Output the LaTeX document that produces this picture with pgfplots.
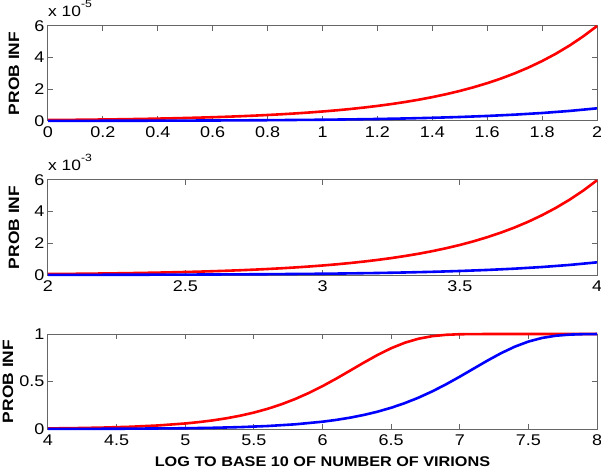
\documentclass[border=0pt]{standalone}
\usepackage{fontspec}
\setmainfont{Liberation Sans}[FakeStretch=1.16]
\usepackage{pgfplots}
\pgfplotsset{compat=1.18}
\definecolor{mred}{RGB}{255,0,0}
\definecolor{mblue}{RGB}{0,0,255}

\pgfplotsset{
  mpanel/.style={
    scale only axis, width=549pt, height=95pt,
    clip=false,
    tick align=inside, major tick length=5pt,
    axis line style={black!60, line width=1pt},
    every tick/.style={black!60, line width=1pt},
    tick label style={font=\fontsize{15.5}{17}\selectfont},
    xticklabel style={yshift=-2pt},
    /pgf/number format/assume math mode=true,
    ylabel={PROB INF},
    ylabel style={font=\bfseries\fontsize{15}{17}\selectfont,
      at={(rel axis cs:0,0.5)}, anchor=center, yshift=34pt},
  },
  scalelab/.style={every y tick scale label/.style={at={(rel axis cs:0,1)}, anchor=base west,
      inner sep=0pt, yshift=9pt, font=\fontsize{15}{17}\selectfont}},
  redline/.style={mred, line width=2.6pt},
  blueline/.style={mblue, line width=2.6pt},
}

\begin{document}
\begin{tikzpicture}
% top panel
\begin{axis}[mpanel, scalelab, at={(0,0)}, anchor=south west,
  xmin=0, xmax=2, ymin=0, ymax=6e-5,
  xtick={0,0.2,...,2.01}, ytick={0,2e-5,4e-5,6e-5},
  scaled y ticks=base 10:5,
  ytick scale label code/.code={x 10\raisebox{9.5pt}{\fontsize{10.5}{11}\selectfont -5}},
]
\addplot[redline] coordinates {
(0,0.060e-5) (0.05,0.0673e-5) (0.1,0.0755e-5) (0.15,0.0848e-5) (0.2,0.0951e-5)
(0.25,0.1067e-5) (0.3,0.1197e-5) (0.35,0.1343e-5) (0.4,0.1507e-5) (0.45,0.1691e-5)
(0.5,0.1897e-5) (0.55,0.2129e-5) (0.6,0.2389e-5) (0.65,0.2680e-5) (0.7,0.3007e-5)
(0.75,0.3374e-5) (0.8,0.3786e-5) (0.85,0.4248e-5) (0.9,0.4766e-5) (0.95,0.5348e-5)
(1.0,0.600e-5) (1.05,0.673e-5) (1.1,0.755e-5) (1.15,0.848e-5) (1.2,0.951e-5)
(1.25,1.067e-5) (1.3,1.197e-5) (1.35,1.343e-5) (1.4,1.507e-5) (1.45,1.691e-5)
(1.5,1.897e-5) (1.55,2.129e-5) (1.6,2.389e-5) (1.65,2.680e-5) (1.7,3.007e-5)
(1.75,3.374e-5) (1.8,3.786e-5) (1.85,4.248e-5) (1.9,4.766e-5) (1.95,5.348e-5)
(2.0,6.0e-5)
};
\addplot[blueline] coordinates {
(0,0.008e-5) (0.2,0.0127e-5) (0.4,0.0201e-5) (0.6,0.0318e-5) (0.8,0.0505e-5)
(1.0,0.080e-5) (1.1,0.1007e-5) (1.2,0.1268e-5) (1.3,0.1596e-5) (1.4,0.2009e-5)
(1.5,0.2530e-5) (1.6,0.3185e-5) (1.7,0.4009e-5) (1.8,0.5048e-5) (1.9,0.6355e-5)
(2.0,0.800e-5)
};
\end{axis}

% middle panel
\begin{axis}[mpanel, scalelab, at={(0,-154pt)}, anchor=south west,
  xmin=2, xmax=4, ymin=0, ymax=6e-3,
  xtick={2,2.5,3,3.5,4}, ytick={0,2e-3,4e-3,6e-3},
  scaled y ticks=base 10:3,
  ytick scale label code/.code={x 10\raisebox{9.5pt}{\fontsize{10.5}{11}\selectfont -3}},
]
\addplot[redline] coordinates {
(2,0.060e-3) (2.05,0.0673e-3) (2.1,0.0755e-3) (2.15,0.0848e-3) (2.2,0.0951e-3)
(2.25,0.1067e-3) (2.3,0.1197e-3) (2.35,0.1343e-3) (2.4,0.1507e-3) (2.45,0.1691e-3)
(2.5,0.1897e-3) (2.55,0.2129e-3) (2.6,0.2389e-3) (2.65,0.2680e-3) (2.7,0.3007e-3)
(2.75,0.3374e-3) (2.8,0.3786e-3) (2.85,0.4248e-3) (2.9,0.4766e-3) (2.95,0.5348e-3)
(3.0,0.600e-3) (3.05,0.673e-3) (3.1,0.755e-3) (3.15,0.848e-3) (3.2,0.951e-3)
(3.25,1.067e-3) (3.3,1.197e-3) (3.35,1.342e-3) (3.4,1.506e-3) (3.45,1.690e-3)
(3.5,1.895e-3) (3.55,2.126e-3) (3.6,2.386e-3) (3.65,2.676e-3) (3.7,3.002e-3)
(3.75,3.368e-3) (3.8,3.779e-3) (3.85,4.239e-3) (3.9,4.755e-3) (3.95,5.334e-3)
(4.0,5.98e-3)
};
\addplot[blueline] coordinates {
(2,0.008e-3) (2.2,0.0127e-3) (2.4,0.0201e-3) (2.6,0.0318e-3) (2.8,0.0505e-3)
(3.0,0.080e-3) (3.1,0.1007e-3) (3.2,0.1268e-3) (3.3,0.1596e-3) (3.4,0.2009e-3)
(3.5,0.2530e-3) (3.6,0.3185e-3) (3.7,0.4009e-3) (3.8,0.5048e-3) (3.9,0.6353e-3)
(4.0,0.800e-3)
};
\end{axis}

% bottom panel
\begin{axis}[mpanel, at={(0,-308pt)}, anchor=south west,
  xmin=4, xmax=8, ymin=0, ymax=1,
  xtick={4,4.5,...,8.01}, ytick={0,0.5,1},
  ylabel style={yshift=6pt},
  xlabel={LOG TO BASE 10 OF NUMBER OF VIRIONS},
  xlabel style={font=\bfseries\fontsize{14}{16}\selectfont, yshift=-4pt},
]
\addplot[redline] coordinates {
(4,0.00598) (4.2,0.00947) (4.4,0.01496) (4.6,0.02361) (4.8,0.03715)
(5.0,0.05824) (5.1,0.07275) (5.2,0.09071) (5.3,0.11283) (5.4,0.13990)
(5.5,0.17282) (5.6,0.21242) (5.7,0.25968) (5.8,0.31515) (5.9,0.37910)
(6.0,0.45119) (6.1,0.53016) (6.2,0.61362) (6.3,0.69795) (6.4,0.77846)
(6.5,0.85004) (6.6,0.90826) (6.7,0.95054) (6.8,0.97731) (6.9,0.99148)
(7.0,0.99752) (7.2,0.99993) (7.4,1.0) (8.0,1.0)
};
\addplot[blueline] coordinates {
(4,0.0008) (4.5,0.00253) (5.0,0.00797) (5.2,0.0126) (5.4,0.0199)
(5.6,0.03135) (5.8,0.04923) (6.0,0.07688) (6.1,0.09581) (6.2,0.11908)
(6.3,0.14753) (6.4,0.18205) (6.5,0.22350) (6.6,0.27271) (6.7,0.33029)
(6.8,0.39634) (6.9,0.47032) (7.0,0.55067) (7.1,0.63474) (7.2,0.71858)
(7.3,0.79736) (7.4,0.86596) (7.5,0.92032) (7.6,0.95863) (7.7,0.98186)
(7.8,0.99358) (7.9,0.99826) (8.0,0.99966)
};
\end{axis}
% page frame matching the reference margins
\pgfresetboundingbox
\path (-48pt,121pt) rectangle (553pt,-349pt);
\end{tikzpicture}
\end{document}
